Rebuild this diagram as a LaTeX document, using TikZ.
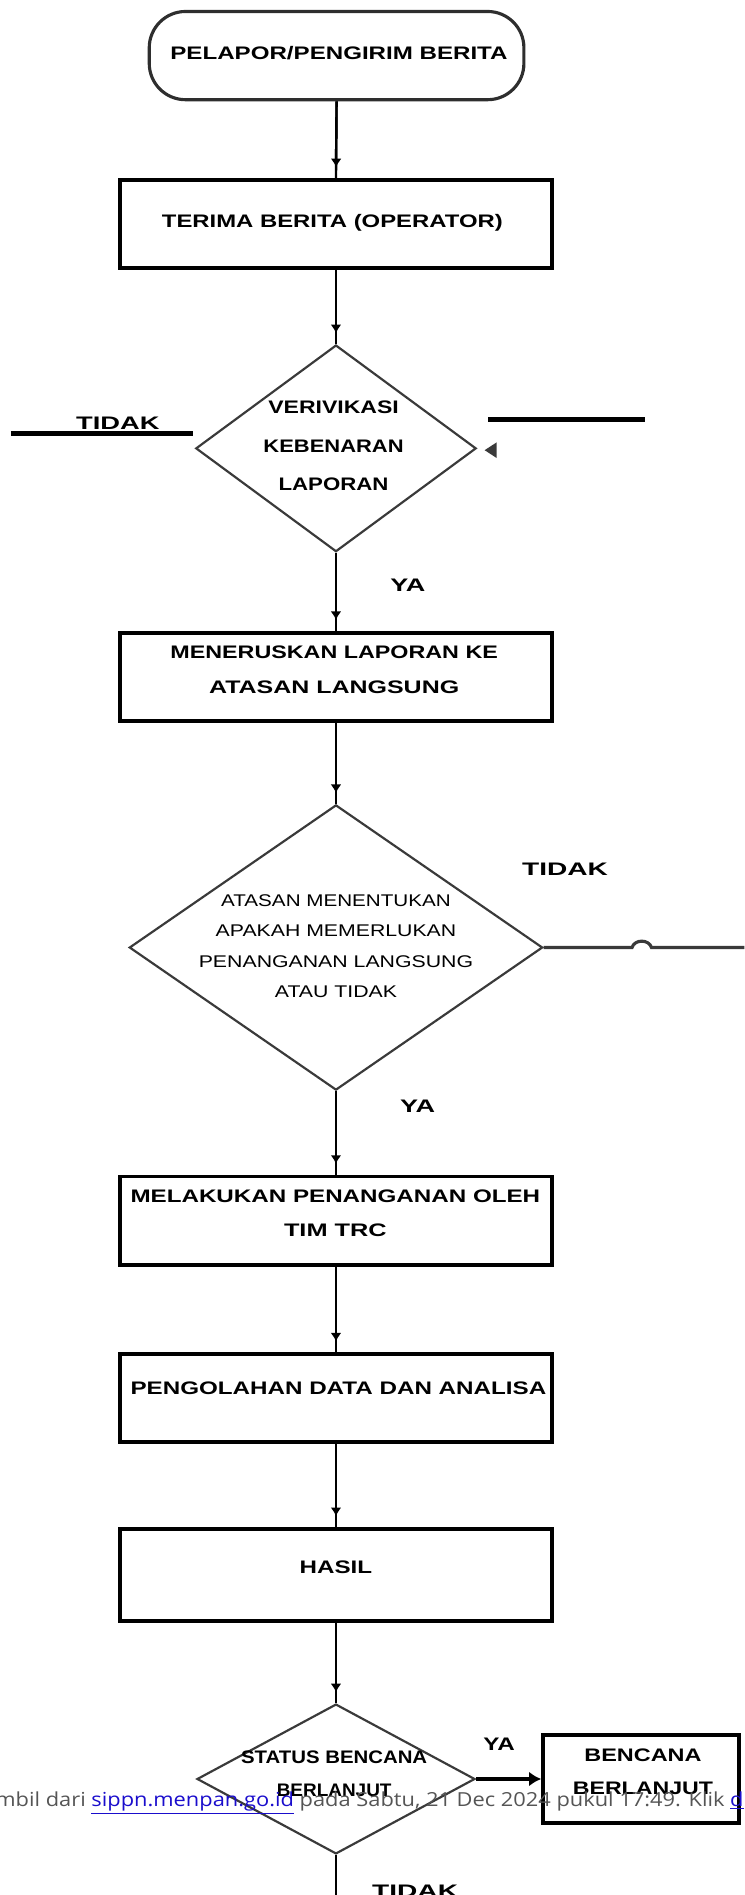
\documentclass[tikz,border=0pt]{standalone}
\usepackage{fontspec}
\setmainfont{Liberation Sans}
\newfontfamily\wmfont{Open Sans}
\usetikzlibrary{shapes.geometric,arrows.meta}
\definecolor{edgegray}{HTML}{3A3A3A}
\definecolor{termgray}{HTML}{2E2E2E}
\definecolor{wmgray}{HTML}{555555}
\definecolor{linkblue}{HTML}{1A0DCC}
\newcommand\fw[2]{\resizebox{#1pt}{\height}{#2}}
\begin{document}
\begin{tikzpicture}[x=1pt,y=1pt,
  box/.style={draw=black, line width=3.2pt, rectangle, minimum width=357pt, minimum height=73pt, inner sep=0pt},
  term/.style={draw=termgray, line width=2.6pt, rectangle, rounded corners=30pt, minimum width=310pt, minimum height=73pt, inner sep=0pt},
  dec/.style={draw=edgegray, line width=1.8pt, diamond, inner sep=0pt},
  lbl/.style={font=\bfseries\fontsize{15}{#1}\selectfont, align=center, inner sep=0pt},
  lbllight/.style={font=\fontsize{14}{#1}\selectfont, align=center, inner sep=0pt},
  flow/.style={draw=black, line width=2pt},
  tip/.style={-{Latex[length=7pt,width=9pt]}, shorten >=9pt},
  thickline/.style={draw=black, line width=3.6pt}]
\useasboundingbox (0,0) rectangle (616,-1568);
\clip (0,0) rectangle (616,-1568);

% shapes
\node[term] (t0) at (278.5,-46) {};
\node[box] (b1) at (278,-185.4) {};
\node[dec, minimum width=232pt, minimum height=171pt] (d1) at (278,-371) {};
\node[box] (b2) at (278,-560) {};
\node[dec, minimum width=342pt, minimum height=236pt] (d2) at (278,-784) {};
\node[box] (b3) at (278,-1010) {};
\node[box] (b4) at (278,-1157) {};
\node[box, minimum height=76pt] (b5) at (278,-1303) {};
\node[dec, minimum width=230pt, minimum height=124pt] (d3) at (278,-1472) {};
\node[box, minimum width=162pt] (b6) at (530.5,-1472) {};

% texts in shapes
\node[lbl=17] (t0t) at (280.5,-44) {\fw{279}{PELAPOR/PENGIRIM BERITA}};
\node[lbl=17] (b1t) at (275,-184.5) {\fw{282}{TERIMA BERITA (OPERATOR)}};
\node[lbl=32] (d1t) at (276,-369) {\fw{108}{VERIVIKASI}\\\fw{116}{KEBENARAN}\\\fw{91}{LAPORAN}};
\node[lbl=29] (b2t) at (276.5,-554) {\fw{271}{MENERUSKAN LAPORAN KE}\\\fw{207}{ATASAN LANGSUNG}};
\node[lbllight=25.3] (d2t) at (278,-783) {\fw{190}{ATASAN MENENTUKAN}\\\fw{199}{APAKAH MEMERLUKAN}\\\fw{227}{PENANGANAN LANGSUNG}\\\fw{101}{ATAU TIDAK}};
\node[lbl=27.6] (b3t) at (277.5,-1004) {\fw{339}{MELAKUKAN PENANGANAN OLEH}\\\fw{85}{TIM TRC}};
\node[lbl=17] (b4t) at (280,-1149) {\fw{344}{PENGOLAHAN DATA DAN ANALISA}};
\node[lbl=17] (b5t) at (278,-1297) {\fw{60}{HASIL}};
\node[lbl=27] (d3t) at (276.5,-1467.5) {\fw{154}{STATUS BENCANA}\\\fw{95}{BERLANJUT}};
\node[lbl=28] (b6t) at (532,-1466) {\fw{97}{BENCANA}\\\fw{116}{BERLANJUT}};

% branch labels
\node[lbl=17] (tidak1) at (97.5,-350.5) {\fw{69}{TIDAK}};
\node[lbl=17] (ya1) at (337.5,-484) {\fw{29}{YA}};
\node[lbl=17] (tidak2) at (467.5,-719) {\fw{71}{TIDAK}};
\node[lbl=17] (ya2) at (345.5,-915) {\fw{29}{YA}};
\node[lbl=17] (ya3) at (413,-1443) {\fw{26}{YA}};
\node[lbl=17] (tidak3) at (343.5,-1565) {\fw{71}{TIDAK}};

% main flow connectors
\foreach \a/\b in {t0/b1, b1/d1, d1/b2, b2/d2, d2/b3, b3/b4, b4/b5, b5/d3} {
  \draw[flow] (\a.south) -- (\b.north);
  \draw[flow,tip] (\a.south) -- (\b.north);
}
\draw[thickline, -{Latex[length=10pt,width=12pt]}] (d3.east) -- (b6.west);
\coordinate (d3end) at (278,-1580);
\draw[flow] (d3.south) -- (d3end);

% right branch of second decision with line jump
\coordinate (hopa) at (523,-784);
\coordinate (hopb) at (539,-784);
\coordinate (d2end) at (625,-784);
\draw[draw=edgegray, line width=2.6pt] (d2.east) -- (hopa) .. controls (525,-777) and (537,-777) .. (hopb) -- (d2end);

% loose lines near first decision
\coordinate (l1a) at (9,-358.6);
\coordinate (l1b) at (160,-358.6);
\draw[thickline] (l1a) -- (l1b);
\coordinate (r1a) at (404,-347);
\coordinate (r1b) at (534,-347);
\draw[thickline] (r1a) -- (r1b);
\fill[edgegray] (411,-366) -- (411,-379) -- (401,-372.5) -- cycle;

% watermark overlay
\node[anchor=base west, inner sep=0pt, font=\wmfont\fontsize{16}{18}\selectfont, text=wmgray] (wm) at (-4,-1495)
  {\resizebox{619pt}{\height}{mbil dari \textcolor{linkblue}{\underline{sippn.menpan.go.id}} pada Sabtu, 21 Dec 2024 pukul 17:49. Klik \textcolor{linkblue}{\underline{d}}}};
\end{tikzpicture}
\end{document}
